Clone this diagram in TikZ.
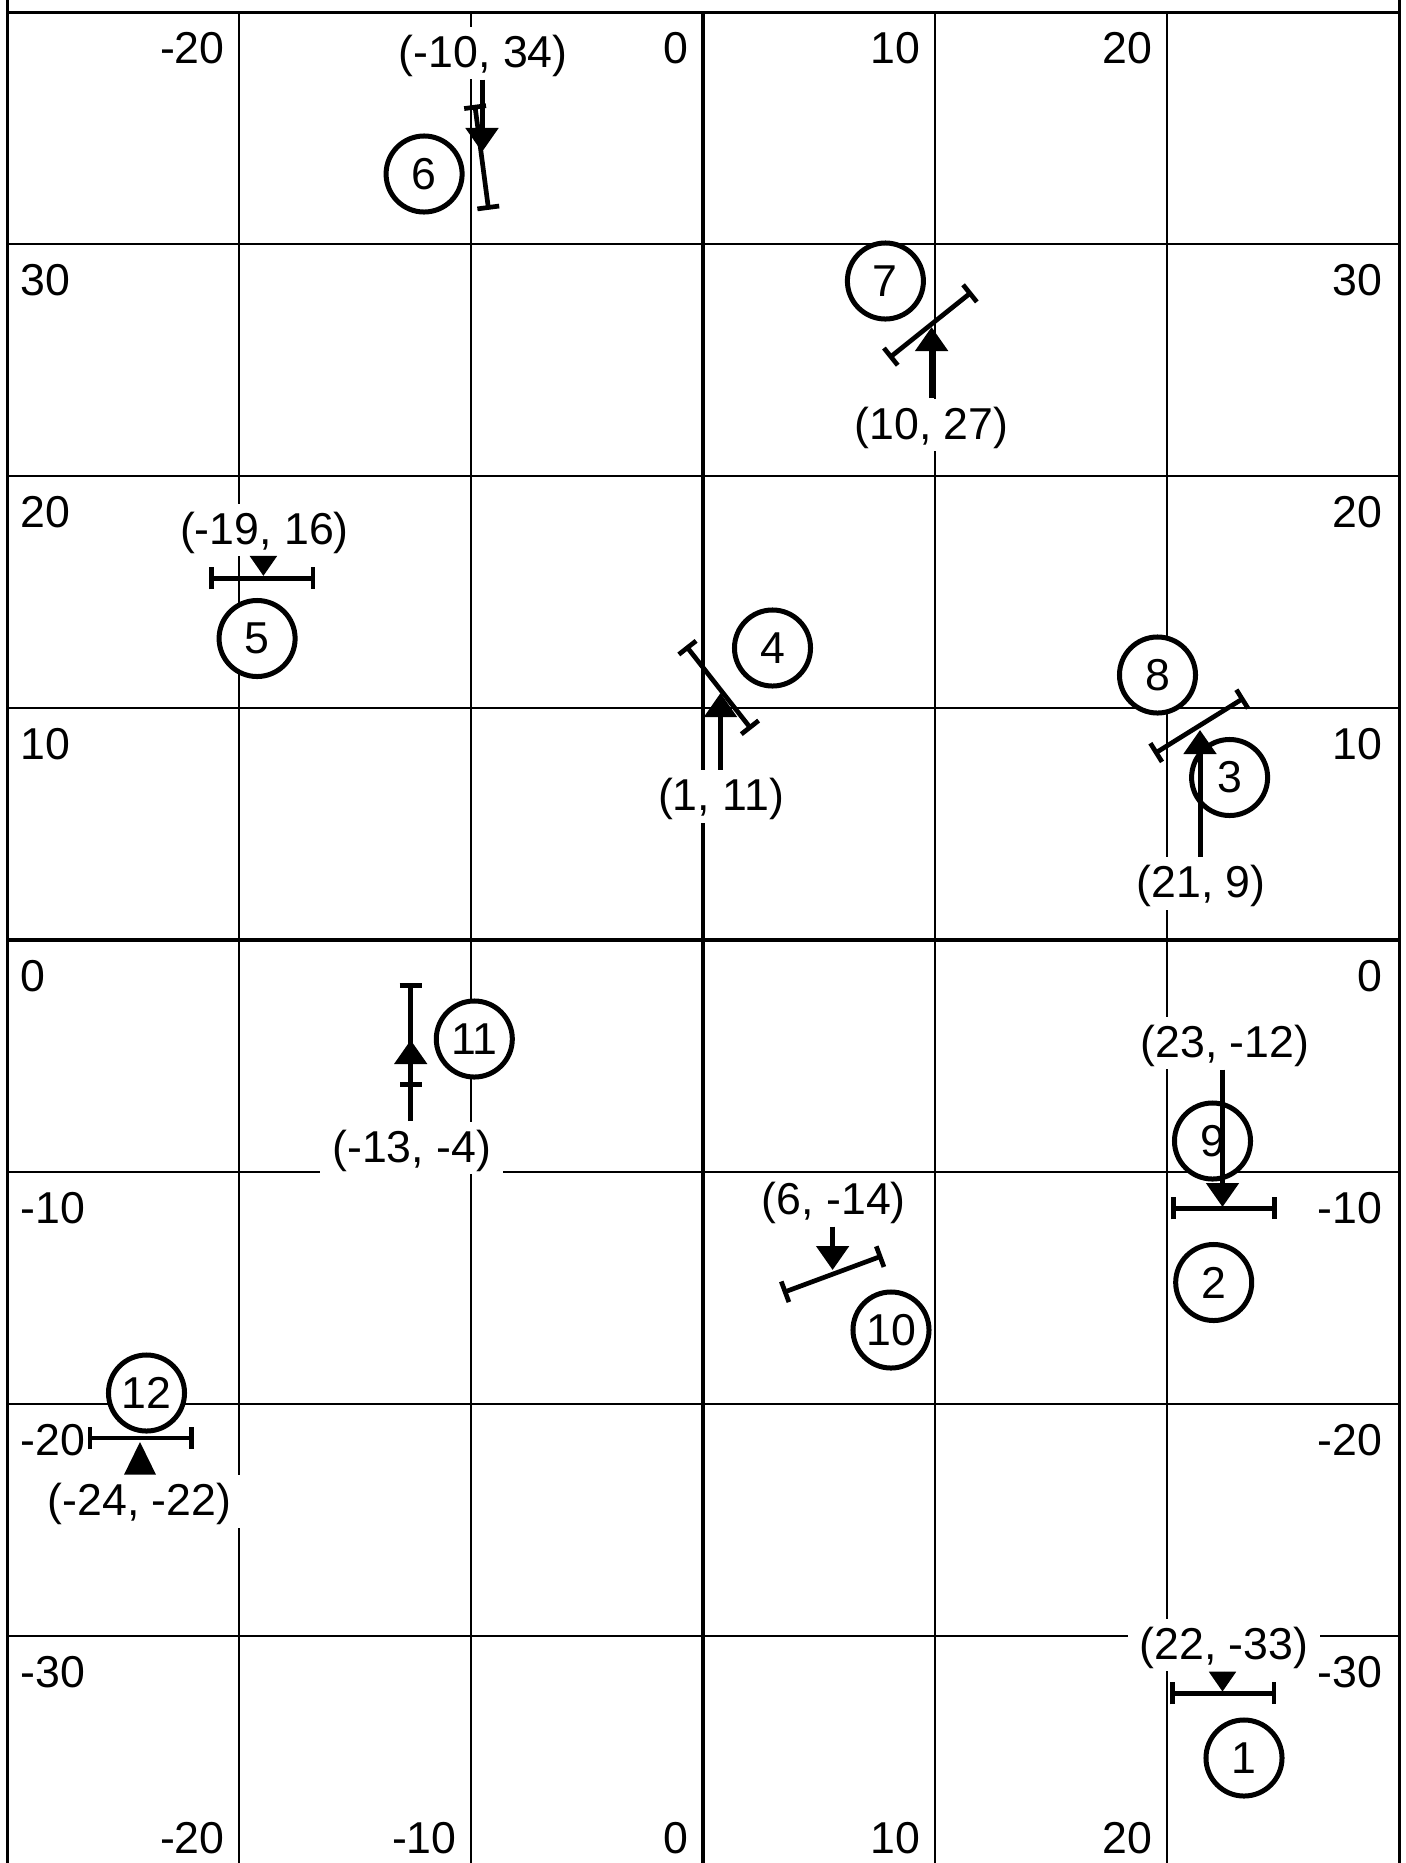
\documentclass[tikz,border=0pt]{standalone}
\usepackage{fontspec}
\setmainfont{Liberation Sans}
\usetikzlibrary{arrows.meta,calc}
\begin{document}
\begin{tikzpicture}[x=0.01cm,y=-0.01cm,
  font=\fontsize{12.7pt}{15pt}\selectfont,
  gridline/.style={line width=0.017cm},
  axisline/.style={line width=0.04cm},
  frameline/.style={line width=0.035cm},
  ticklbl/.style={inner sep=0pt},
  coordlbl/.style={fill=white, inner xsep=0.12cm, inner ysep=0.12cm, text height=0.8em, text depth=0pt, anchor=base},
  numcircle/.style={circle, draw, fill=white, line width=0.05cm, minimum size=0.76cm, inner sep=0pt},
  barline/.style={line width=0.047cm, {Bar[width=0.22cm]}-{Bar[width=0.22cm]}},
  pointer/.style={line width=0.05cm, -{Triangle[width=0.32cm,length=0.24cm]}},
  smallpointer/.style={line width=0.05cm, -{Triangle[width=0.26cm,length=0.2cm]}},
]
\useasboundingbox (0,0) rectangle (1405,1863);

% grid
\foreach \gx in {239.3,471.3,935.3,1167.3} \draw[gridline] (\gx,12.5) -- (\gx,1863);
\foreach \gy in {244,476,708,1172,1404,1636} \draw[gridline] (7.3,\gy) -- (1399.3,\gy);
\draw[axisline] (703.3,12.5) -- (703.3,1863);
\draw[axisline] (7.3,940) -- (1399.3,940);
\draw[frameline] (7.3,0) -- (7.3,1863);
\draw[frameline] (1399.3,0) -- (1399.3,1863);
\draw[frameline] (7.3,12.5) -- (1399.3,12.5);

% tick labels
\foreach \v/\yy in {30/244,20/476,10/708,0/940,-10/1172,-20/1404,-30/1636} {
  \node[ticklbl,anchor=base west] (tickL\v) at (20,\yy+51.5) {\v};
  \node[ticklbl,anchor=base east] (tickR\v) at (1383,\yy+51.5) {\v};
}
\foreach \v/\xx in {-20/239.3,0/703.3,10/935.3,20/1167.3} {
  \node[ticklbl,anchor=base east] (tickT\v) at (\xx-14,63.5) {\v};
}
\foreach \v/\xx in {-20/239.3,-10/471.3,0/703.3,10/935.3,20/1167.3} {
  \node[ticklbl,anchor=base east] (tickB\v) at (\xx-14,1853) {\v};
}

% coordinate labels
\node[coordlbl] (lA) at (483.3,67) {(-10, 34)};
\node[coordlbl] (lB) at (931.6,439) {(10, 27)};
\node[coordlbl] (lC) at (264.5,544) {(-19, 16)};
\node[coordlbl] (lD) at (721,810.5) {(1, 11)};
\node[coordlbl] (lE) at (1201,897.5) {(21, 9)};
\node[coordlbl] (lF) at (411.8,1162) {(-13, -4)};
\node[coordlbl] (lG) at (139.5,1515.5) {(-24, -22)};
\node[coordlbl] (lH) at (833.8,1214) {(6, -14)};
\node[coordlbl] (lI) at (1225,1057) {(23, -12)};
\node[coordlbl] (lJ) at (1224,1659) {(22, -33)};

% numbered circles
\node[numcircle] (c1) at (1244,1758) {1};
\node[numcircle] (c2) at (1213.7,1282.5) {2};
\node[numcircle] (c3) at (1229.6,777.5) {3};
\node[numcircle] (c4) at (772.5,648) {4};
\node[numcircle] (c5) at (257.1,638.5) {5};
\node[numcircle] (c6) at (424.1,174) {6};
\node[numcircle] (c7) at (885.4,281) {7};
\node[numcircle] (c8) at (1157.5,675) {8};
\node[numcircle] (c9) at (1212.5,1141) {9};
\node[numcircle] (c10) at (891,1330) {10};
\node[numcircle] (c11) at (474.3,1039) {11};
\node[numcircle] (c12) at (146.5,1393) {12};

% bars
\coordinate (bA1) at (474.8,104.8);  \coordinate (bA2) at (488.6,209.8);
\coordinate (bB1) at (889,358.1);    \coordinate (bB2) at (971.8,291.9);
\coordinate (bC1) at (209.3,578.3);  \coordinate (bC2) at (315.3,578.3);
\coordinate (bD1) at (686,645.8);    \coordinate (bD2) at (751.4,729.2);
\coordinate (bE1) at (1154.2,753.8); \coordinate (bE2) at (1244.2,697.8);
\coordinate (bF1) at (410.7,983);    \coordinate (bF2) at (410.7,1087);
\coordinate (bG1) at (87.5,1438);    \coordinate (bG2) at (193.5,1438);
\coordinate (bH1) at (782.9,1292.6); \coordinate (bH2) at (882.3,1255.8);
\coordinate (bI1) at (1170.9,1208.3);\coordinate (bI2) at (1276.9,1208.3);
\coordinate (bJ1) at (1170.2,1693.3);\coordinate (bJ2) at (1276.2,1693.3);
\foreach \m in {A,B,C,D,E,F,G,H,I,J} \draw[barline] (b\m1) -- (b\m2);

% arrow tips
\coordinate (tA) at (482,152);
\coordinate (tB) at (931.6,327);
\coordinate (tC) at (263.4,576);
\coordinate (tD) at (720.5,693);
\coordinate (tE) at (1200,730);
\coordinate (tF) at (410.7,1040);
\coordinate (tG) at (140,1442);
\coordinate (tH) at (832.6,1270);
\coordinate (tI) at (1222.5,1207);
\coordinate (tJ) at (1222.5,1691.7);

\draw[pointer] (tA |- lA.south) -- (tA);
\draw[pointer] (tB |- lB.north) -- (tB);
\draw[smallpointer] (tC |- lC.south) -- (tC);
\draw[pointer] (tD |- lD.north) -- (tD);
\draw[pointer] (tE |- lE.north) -- (tE);
\draw[pointer] (tF |- lF.north) -- (tF);
\fill (tG) -- ($(tG |- lG.north)+(-16,0)$) -- ($(tG |- lG.north)+(16,0)$) -- cycle;
\draw[pointer] (tH |- lH.south) -- (tH);
\draw[pointer] (tI |- lI.south) -- (tI);
\draw[smallpointer] (tJ |- lJ.south) -- (tJ);
\end{tikzpicture}
\end{document}
